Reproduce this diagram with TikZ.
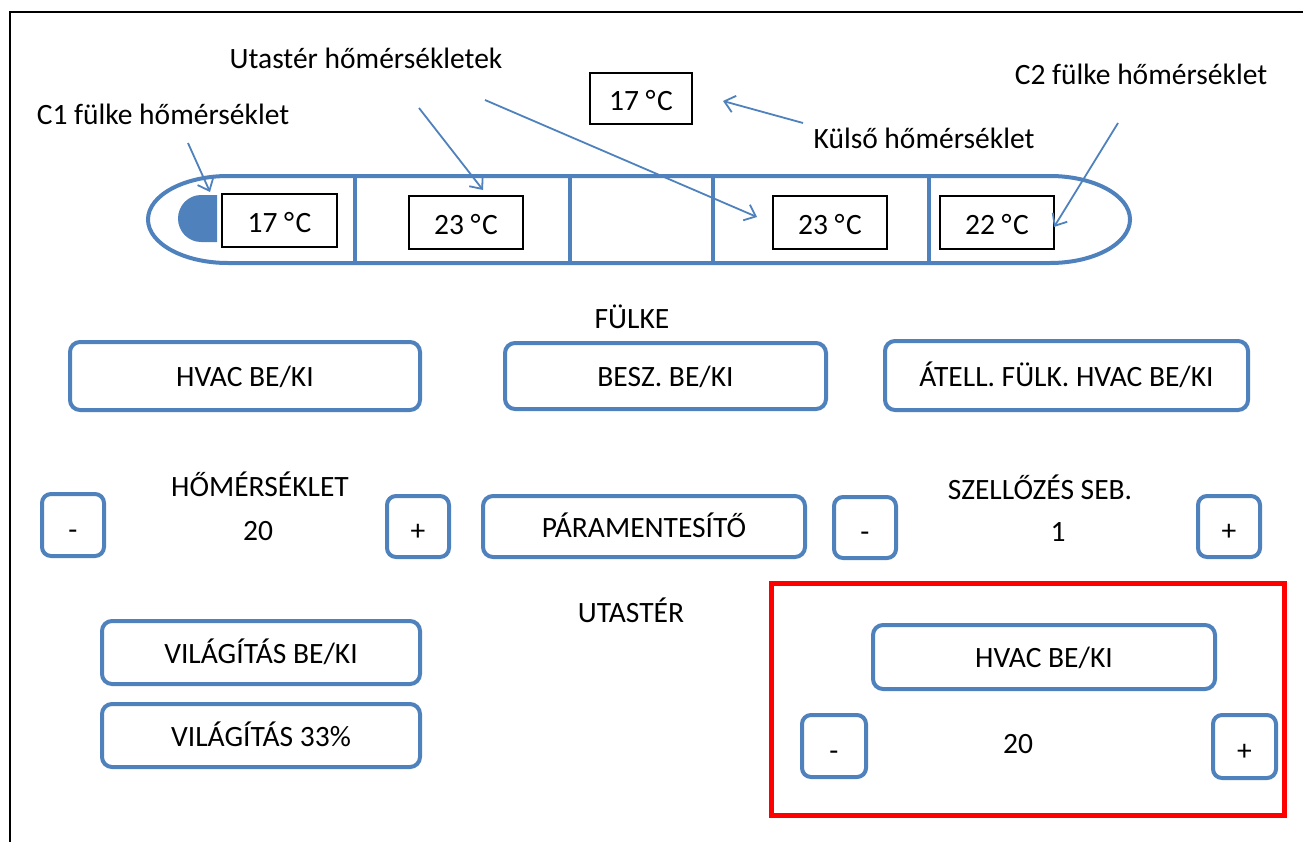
\documentclass[tikz,border=0pt]{standalone}
\usepackage{fontspec}
\setmainfont{Carlito}
\usetikzlibrary{arrows.meta}
\definecolor{uiblue}{RGB}{79,129,189}
\definecolor{uired}{RGB}{255,0,0}
\newcommand{\degC}{°\kern1.5pt C}
\begin{document}
\begin{tikzpicture}[x=1pt,y=-1pt,
  font=\fontsize{29.5}{35}\selectfont,
  btn/.style={draw=uiblue, line width=4pt, rounded corners=10pt, inner sep=0pt, text height=24pt, text depth=3pt},
  smallbtn/.style={btn, rounded corners=9pt, minimum width=62pt, minimum height=62pt, text height=30pt, text depth=2pt},
  tempbox/.style={draw=black, line width=1.5pt, inner sep=0pt, minimum width=114pt, minimum height=53pt, text height=26pt, text depth=3pt},
  lbl/.style={inner sep=0pt, text height=24pt, text depth=3pt},
  trainline/.style={draw=uiblue, line width=4pt},
  pointer/.style={draw=uiblue, line width=1.8pt, -{Straight Barb[length=10pt,width=17pt]}}
]
\useasboundingbox (0,0) rectangle (1303,841);
\begin{scope}
  \clip (0,0) rectangle (1303,841);
  \draw[line width=2.5pt] (1330,12) -- (10,12) -- (10,870);
\end{scope}

% train outline
\draw[trainline] (228,176) -- (1050,176)
   arc[start angle=-90, end angle=90, x radius=80, y radius=43.5]
   -- (228,263)
   arc[start angle=90, end angle=270, x radius=80, y radius=43.5] -- cycle;
\foreach \dx in {355,570,713,929} \draw[trainline] (\dx,176) -- (\dx,263);
% cab
\fill[uiblue] (217,195) -- (201,195) arc[start angle=-90, end angle=-270, x radius=23, y radius=23.5] -- (217,242) -- cycle;

% temperature boxes
\node[tempbox, minimum width=115pt] (t1) at (279.5,220.5) {17 \degC};
\node[tempbox] (t2) at (466,222.5) {23 \degC};
\node[tempbox] (t3) at (830,222.5) {23 \degC};
\node[tempbox] (t4) at (997,222.5) {22 \degC};
\node[tempbox, minimum width=102pt, minimum height=51pt] (tout) at (641,98.5) {17 \degC};

% labels
\node[lbl] (lutas) at (366,58) {Utastér hőmérsékletek};
\node[lbl] (lc1) at (163,114) {C1 fülke hőmérséklet};
\node[lbl] (lc2) at (1141,74) {C2 fülke hőmérséklet};
\node[lbl] (lkul) at (924,138) {Külső hőmérséklet};

% arrows
\coordinate (c1a) at (188,143); \coordinate (c1b) at (210,192);
\coordinate (u1a) at (419,108); \coordinate (u1b) at (483,190);
\coordinate (u2a) at (485,100); \coordinate (u2b) at (757,217);
\coordinate (c2a) at (1118,123); \coordinate (c2b) at (1054,227);
\coordinate (ka) at (803,123); \coordinate (kb) at (723,101);
\draw[pointer] (c1a) -- (c1b);
\draw[pointer] (u1a) -- (u1b);
\draw[pointer] (u2a) -- (u2b);
\draw[pointer] (c2a) -- (c2b);
\draw[pointer] (ka) -- (kb);

% FÜLKE section
\node[lbl] (fulke) at (632,318) {FÜLKE};
\node[btn, minimum width=350pt, minimum height=68pt] (hvac1) at (245,376) {HVAC BE/KI};
\node[btn, minimum width=321pt, minimum height=66pt] (besz) at (665.5,376) {BESZ. BE/KI};
\node[btn, minimum width=363pt, minimum height=69pt] (atell) at (1066.5,375.5) {ÁTELL. FÜLK. HVAC BE/KI};

\node[lbl] (homer) at (260,486) {HŐMÉRSÉKLET};
\node[smallbtn] (minus1) at (73,525) {-};
\node[lbl] (val1) at (258,530) {20};
\node[smallbtn, minimum height=61pt] (plus1) at (418,526.5) {+};
\node[btn, minimum width=322pt, minimum height=61pt] (param) at (644,526.5) {PÁRAMENTESÍTŐ};
\node[lbl] (szell) at (1040,489) {SZELLŐZÉS SEB.};
\node[smallbtn, minimum height=61pt] (minus2) at (865,527.5) {-};
\node[lbl] (val2) at (1058,531) {1};
\node[smallbtn, minimum height=61pt] (plus2) at (1229,526.5) {+};

% UTASTÉR section
\node[lbl] (utaster) at (631,612) {UTASTÉR};
\node[btn, minimum width=318pt, minimum height=63pt] (vil1) at (261,652.5) {VILÁGÍTÁS BE/KI};
\node[btn, minimum width=318pt, minimum height=63pt] (vil2) at (261,735.5) {VILÁGÍTÁS 33\%};

\draw[draw=uired, line width=5pt] (771,583) rectangle (1284,815);
\node[btn, minimum width=342pt, minimum height=64pt] (hvac2) at (1044,657) {HVAC BE/KI};
\node[smallbtn, minimum width=64pt] (minus3) at (834,746) {-};
\node[lbl] (val3) at (1018,743) {20};
\node[smallbtn, minimum width=63pt, minimum height=63pt] (plus3) at (1244.5,746.5) {+};
\end{tikzpicture}
\end{document}
